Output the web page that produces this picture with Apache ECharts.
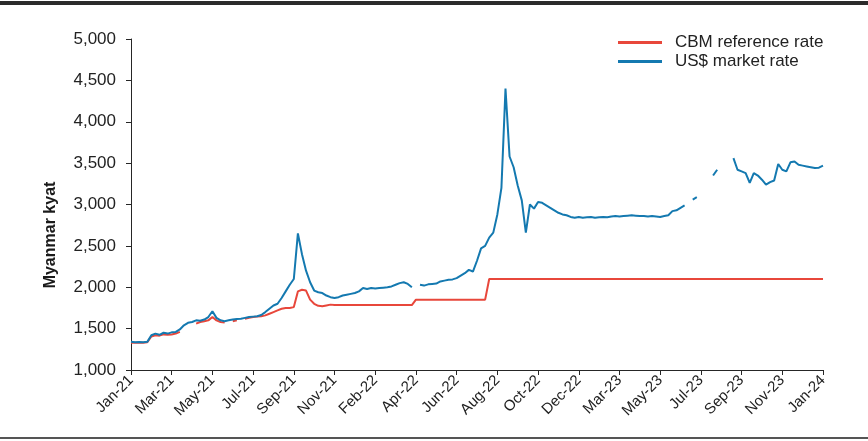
<!DOCTYPE html>
<html><head><meta charset="utf-8">
<script src="https://cdn.jsdelivr.net/npm/echarts@6/dist/echarts.min.js"></script>
<style>html,body{margin:0;padding:0;background:#fff}#c{width:868px;height:441px}</style>
</head><body><div id="c"></div>
<script>
const tickLabels = ['Jan-21','Mar-21','May-21','Jul-21','Sep-21','Nov-21','Feb-22','Apr-22','Jun-22','Aug-22','Oct-22','Dec-22','Mar-23','May-23','Jul-23','Sep-23','Nov-23','Jan-24'];

const yTicks = [1000,1500,2000,2500,3000,3500,4000,4500,5000];

const seriesNames = ['CBM reference rate','US$ market rate'];

const marketRate = [
1340,1335,1338,1335,1340,1420,1440,1425,1450,1440,
1455,1460,1490,1540,1570,1580,1600,1595,1610,1640,
1710,1630,1600,1590,1600,1610,1615,1620,1630,1640,
1645,1650,1665,1700,1740,1780,1800,1870,1950,2030,
2100,2650,2400,2200,2060,1960,1940,1930,1900,1880,
1870,1880,1900,1910,1920,1930,1950,1990,1980,1990,
1985,1990,1995,2000,2010,2030,2050,2060,2040,2000,
null,2030,2020,2035,2040,2045,2070,2080,2090,2095,
2110,2140,2170,2210,2190,2320,2470,2500,2600,2660,
2880,3200,4400,3580,3450,3230,3050,2660,3000,2950,
3030,3020,2990,2960,2930,2900,2880,2870,2850,2840,
2850,2840,2845,2850,2840,2845,2850,2845,2855,2860,
2855,2860,2865,2870,2865,2860,2860,2855,2860,2855,
2850,2860,2870,2920,2930,2960,2990,null,3060,3090,
null,null,null,3350,3420,null,null,null,3560,3420,
3400,3380,3260,3380,3350,3300,3240,3270,3290,3490,
3420,3400,3510,3520,3480,3470,3460,3450,3440,3445,
3470
];

const cbmRate = [
1330,1330,1330,1330,1335,1405,1420,1415,1430,1425,
1430,1440,1460,null,1520,null,1560,1580,1590,1600,
1640,1600,1580,1575,null,1590,1600,null,1620,1630,
1640,1645,1650,1660,1680,1700,1720,1740,1750,1750,
1760,1950,1970,1960,1850,1800,1775,1770,1780,1790,
1785,1785,1785,1785,1785,1785,1785,1785,1785,1785,
1785,1785,1785,1785,1785,1785,1785,1785,1785,1785,
1850,1850,1850,1850,1850,1850,1850,1850,1850,1850,
1850,1850,1850,1850,1850,1850,1850,1850,2100,2100,
2100,2100,2100,2100,2100,2100,2100,2100,2100,2100,
2100,2100,2100,2100,2100,2100,2100,2100,2100,2100,
2100,2100,2100,2100,2100,2100,2100,2100,2100,2100,
2100,2100,2100,2100,2100,2100,2100,2100,2100,2100,
2100,2100,2100,2100,2100,2100,2100,2100,2100,2100,
2100,2100,2100,2100,2100,2100,2100,2100,2100,2100,
2100,2100,2100,2100,2100,2100,2100,2100,2100,2100,
2100,2100,2100,2100,2100,2100,2100,2100,2100,2100,
2100
];

const categories = marketRate.map((v, i) => 'p' + i);
const labelStep = (categories.length - 1) / (tickLabels.length - 1);

const FONT = '"Liberation Sans",Arial,sans-serif';
const RED = '#e8473b';
const BLUE = '#1479b0';
const AX = '#262626';

const chart = echarts.init(document.getElementById('c'), null, {renderer: 'canvas'});
chart.setOption({
  animation: false,
  grid: {left: 131, right: 45, top: 39, bottom: 71},
  legend: {
    orient: 'vertical', left: 613, top: 29,
    icon: 'rect', itemWidth: 44, itemHeight: 3, itemGap: 2,
    textStyle: {fontFamily: FONT, fontSize: 17, color: '#222', padding: [0, 0, 0, 8], lineHeight: 17},
    data: seriesNames
  },
  xAxis: {
    type: 'category', data: categories, boundaryGap: false,
    axisLine: {lineStyle: {color: AX, width: 1}},
    axisTick: {length: 5, interval: (i) => i % labelStep === 0, lineStyle: {color: AX}},
    axisLabel: {
      interval: (i) => i % labelStep === 0,
      formatter: (v, i) => tickLabels[Math.round(i / labelStep)],
      rotate: 45, margin: 8, fontFamily: FONT, fontSize: 15, color: '#222'
    },
    splitLine: {show: false}
  },
  yAxis: {
    type: 'value', min: yTicks[0], max: yTicks[yTicks.length - 1], interval: yTicks[1] - yTicks[0],
    axisLine: {show: true, lineStyle: {color: AX}},
    axisTick: {show: true, length: 5, lineStyle: {color: AX}},
    axisLabel: {margin: 15, formatter: (v) => v.toLocaleString('en-US'), fontFamily: FONT, fontSize: 17, color: '#222'},
    splitLine: {show: false}
  },
  series: [
    {name: seriesNames[0], type: 'line', data: cbmRate, showSymbol: false, connectNulls: false,
     lineStyle: {color: RED, width: 2}, itemStyle: {color: RED}},
    {name: seriesNames[1], type: 'line', data: marketRate, showSymbol: false, connectNulls: false,
     lineStyle: {color: BLUE, width: 2}, itemStyle: {color: BLUE}}
  ],
  graphic: [
    {type: 'rect', shape: {x: 0, y: 1, width: 868, height: 4}, style: {fill: '#2b2b2b'}, silent: true},
    {type: 'rect', shape: {x: 0, y: 437, width: 868, height: 2}, style: {fill: '#555'}, silent: true},
    {type: 'text', x: 51, y: 235, rotation: Math.PI / 2,
     style: {text: 'Myanmar kyat', fontFamily: FONT, fontSize: 16, fontWeight: 'bold', fill: '#1a1a1a', align: 'center', verticalAlign: 'middle'}}
  ]
});
</script>
</body></html>
